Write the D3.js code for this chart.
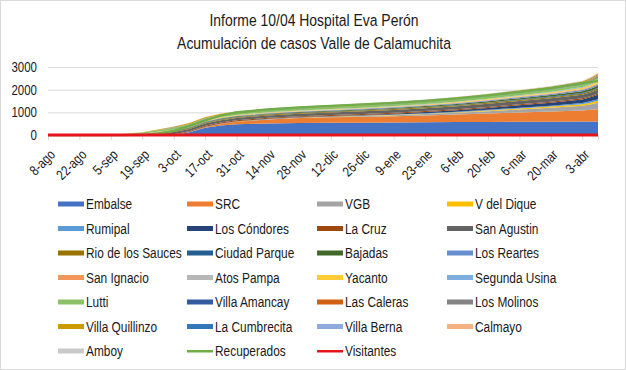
<!DOCTYPE html>
<html>
<head>
<meta charset="utf-8">
<script src="https://cdn.jsdelivr.net/npm/d3@7"></script>
<style>
  body { margin: 0; background: #fff; }
  svg text { font-family: "Liberation Sans", Arial, sans-serif; fill: #1a1a1a; }
</style>
</head>
<body>
<div id="chartWrapper"></div>
<script>
// sample dates (every 2 weeks, a few extra in the steep parts)
const dates = ["2020-08-08","2020-08-22","2020-09-05","2020-09-19","2020-09-26","2020-10-03","2020-10-10",
  "2020-10-17","2020-10-24","2020-10-31","2020-11-14","2020-11-28","2020-12-12","2020-12-26","2021-01-09",
  "2021-01-23","2021-02-06","2021-02-20","2021-03-06","2021-03-20","2021-04-03","2021-04-07","2021-04-10"];

const tickDates = ["2020-08-08","2020-08-22","2020-09-05","2020-09-19","2020-10-03","2020-10-17","2020-10-31",
  "2020-11-14","2020-11-28","2020-12-12","2020-12-26","2021-01-09","2021-01-23","2021-02-06","2021-02-20",
  "2021-03-06","2021-03-20","2021-04-03"];
const tickLabels = ["8-ago","22-ago","5-sep","19-sep","3-oct","17-oct","31-oct","14-nov","28-nov","12-dic",
  "26-dic","9-ene","23-ene","6-feb","20-feb","6-mar","20-mar","3-abr"];

const yTicks = [0, 1000, 2000, 3000];

const areaNames = ["Embalse","SRC","VGB","V del Dique","Rumipal","Los Cóndores","La Cruz","San Agustin",
  "Rio de los Sauces","Ciudad Parque","Bajadas","Los Reartes","San Ignacio","Atos Pampa","Yacanto",
  "Segunda Usina","Lutti","Villa Amancay","Las Caleras","Los Molinos","Villa Quillinzo","La Cumbrecita",
  "Villa Berna","Calmayo","Amboy"];

const embalse        = [0,0,0,0,0,0,120,320,420,470,510,530,540,545,550,560,570,578,584,588,592,596,600];
const src            = [0,0,0,0,0,0,5,30,70,110,170,215,240,258,278,303,333,368,408,448,490,515,540];
const vgb            = [0,0,0,0,0,0,2,5,8,10,14,18,25,35,48,62,80,105,135,165,210,245,280];
const vDelDique      = [0,0,0,0,0,0,0,1,2,3,4,5,7,10,14,18,24,32,42,52,66,78,90];
const rumipal        = [0,0,0,0,0,0,0,1,1,2,3,4,6,8,11,15,20,26,34,42,52,62,70];
const losCondores    = [0,0,0,0,0,2,5,8,11,13,15,17,22,30,40,52,65,85,108,130,160,180,200];
const laCruz         = [0,0,0,12,25,35,38,40,41,42,42,43,43,44,44,45,45,46,46,47,48,49,50];
const sanAgustin     = [0,0,0,30,60,90,96,100,102,104,106,108,110,115,120,125,130,137,144,152,160,165,170];
const rioDeLosSauces = [0,0,0,8,18,30,32,33,34,34,35,35,36,37,38,39,40,42,44,46,47,48,50];
const ciudadParque   = [0,0,0,0,4,8,9,10,10,10,11,11,12,13,14,15,17,19,21,24,26,28,30];
const bajadas        = [0,0,0,0,8,20,24,26,27,28,29,30,32,35,38,42,46,52,60,68,80,88,95];
const losReartes     = [0,0,0,4,10,18,20,21,22,22,23,23,24,26,28,30,33,37,41,45,52,56,60];
const sanIgnacio     = [0,0,0,0,3,6,7,8,8,8,9,9,10,11,12,13,15,18,21,25,31,36,40];
const atosPampa      = [0,0,0,0,0,3,3,4,4,4,4,5,5,6,6,7,8,9,11,13,16,18,20];
const yacanto        = [0,0,0,4,10,15,17,18,19,19,20,20,21,22,23,25,27,30,34,40,52,65,80];
const segundaUsina   = [0,0,0,0,3,6,7,8,8,8,9,9,10,11,12,14,16,19,22,26,31,36,40];
const lutti          = [0,0,3,50,68,80,84,86,87,88,89,90,91,93,95,97,99,102,105,108,112,116,120];
const villaAmancay   = [0,0,0,0,0,3,4,4,5,5,5,6,6,7,8,9,10,12,14,17,21,26,30];
const lasCaleras     = [0,0,0,0,0,2,2,3,3,3,3,4,4,5,5,6,7,8,10,12,15,19,22];
const losMolinos     = [0,0,0,0,4,8,9,10,10,11,11,12,12,13,14,15,17,19,22,25,29,32,35];
const villaQuillinzo = [0,0,0,12,25,40,42,43,44,44,45,45,46,47,48,49,50,51,52,53,57,62,70];
const laCumbrecita   = [0,0,0,0,2,3,3,3,3,4,4,4,4,4,5,5,5,6,6,7,8,9,10];
const villaBerna     = [0,0,0,0,0,2,2,2,3,3,3,3,3,4,4,4,5,5,6,7,8,9,10];
const calmayo        = [0,0,0,0,2,5,5,6,6,6,6,7,7,7,8,8,9,10,11,13,15,18,20];
const amboy          = [0,0,0,0,0,2,2,2,3,3,3,3,3,4,4,4,5,5,6,7,8,10,12];

const recuperados    = [0,0,0,10,60,180,400,640,860,1000,1130,1220,1290,1350,1420,1510,1620,1750,1900,2070,2290,2340,2380];
const visitantes     = [0,0,0,0,0,0,0,0,0,0,0,0,0,0,0,0,0,0,0,0,0,0,0];

const areaSeries = [embalse, src, vgb, vDelDique, rumipal, losCondores, laCruz, sanAgustin, rioDeLosSauces,
  ciudadParque, bajadas, losReartes, sanIgnacio, atosPampa, yacanto, segundaUsina, lutti, villaAmancay,
  lasCaleras, losMolinos, villaQuillinzo, laCumbrecita, villaBerna, calmayo, amboy];

const areaColors = ["#4472C4","#ED7D31","#A5A5A5","#FFC000","#5B9BD5","#264478","#9E480E","#636363",
  "#997300","#255E91","#43682B","#698ED0","#F1975A","#B7B7B7","#FFCD33","#7CAFDD","#8CC168","#335AA1",
  "#D26012","#848484","#CC9A00","#3277B9","#8FAADC","#F4B183","#C9C9C9"];

const lineNames = ["Recuperados","Visitantes"];
const lineColors = ["#70AD47","#E8141C"];

const W = 626, H = 370;
const plot = { left: 48, right: 598, top: 67, bottom: 135 };
const NARROW = 0.82; // no Arial Narrow here, squeeze Liberation Sans instead

const parseDay = d3.timeParse("%Y-%m-%d");

// text squeezed horizontally, placed at (x,y)
function narrowText(p, x, y, str, size, anchor){
	return p.append("text")
		.attr("transform", `translate(${x},${y}) scale(${NARROW},1)`)
		.attr("text-anchor", anchor || "start")
		.attr("dy", "0.35em")
		.style("font-size", size + "px")
		.text(str);
}

const svg = d3.select("#chartWrapper").append("svg")
  .attr("width", W).attr("height", H);

svg.append("rect")
  .attr("x", 0.5).attr("y", 0.5).attr("width", W - 1).attr("height", H - 1)
  .attr("fill", "#fff").attr("stroke", "#d9d9d9");

// titles
narrowText(svg, 314, 20, "Informe 10/04 Hospital Eva Perón", 17, "middle");
narrowText(svg, 314, 43, "Acumulación de casos Valle de Calamuchita", 17, "middle");

const x = d3.scaleTime()
  .domain([parseDay(dates[0]), parseDay(dates[dates.length - 1])])
  .range([plot.left, plot.right]);
const y = d3.scaleLinear().domain([0, 3000]).range([plot.bottom, plot.top]);

// gridlines
const yAxis = d3.axisLeft(y).tickValues(yTicks).tickSize(-(plot.right - plot.left)).tickFormat("");
const yG = svg.append("g").attr("transform", `translate(${plot.left},0)`).call(yAxis);
yG.select(".domain").remove();
yG.selectAll("line").attr("stroke", "#d9d9d9");

const yLabels = svg.append("g");
yTicks.forEach(t => narrowText(yLabels, 37, y(t), String(t), 14, "end"));

// stacked areas
const rows = dates.map((d, i) => {
  const row = { date: parseDay(d) };
  areaNames.forEach((n, k) => { row[n] = areaSeries[k][i]; });
  return row;
});
const stacked = d3.stack().keys(areaNames)(rows);
const area = d3.area()
  .x(d => x(d.data.date))
  .y0(d => y(d[0]))
  .y1(d => y(d[1]));

svg.append("g").selectAll("path")
  .data(stacked)
  .join("path")
  .attr("d", area)
  .attr("fill", (d, i) => areaColors[i]);

// x axis ticks + rotated labels
const xAxis = d3.axisBottom(x)
  .tickValues(tickDates.map(parseDay))
  .tickSize(5)
  .tickFormat((d, i) => tickLabels[i]);
const xG = svg.append("g").attr("transform", `translate(0,${plot.bottom})`).call(xAxis);
xG.select(".domain").attr("stroke", "#d9d9d9");
xG.selectAll("line").attr("stroke", "#d9d9d9");
xG.selectAll("text")
  .style("font-size", "14px")
  .attr("fill", "#1a1a1a")
  .attr("x", 0).attr("y", 0)
  .attr("text-anchor", "end")
  .attr("dy", "0.35em")
  .attr("transform", `translate(4,17) rotate(-45) scale(${NARROW},1)`);

// lines
const lineSeries = [recuperados, visitantes];
const lineFn = d3.line()
  .x((v, i) => x(parseDay(dates[i])))
  .y(v => y(v));
svg.append("g").selectAll("path")
  .data(lineSeries)
  .join("path")
  .attr("d", lineFn)
  .attr("fill", "none")
  .attr("stroke", (d, i) => lineColors[i])
  .attr("stroke-width", (d, i) => i === 1 ? 3 : 2.25);

// legend (4 columns, filled row by row)
const legendCols = [58, 187, 317, 447];
const legendTop = 204, legendStep = 24.5;
const legendItems = areaNames.map((n, i) => ({ name: n, color: areaColors[i], type: "area" }))
  .concat(lineNames.map((n, i) => ({ name: n, color: lineColors[i], type: "line" })));

const lg = svg.append("g").selectAll("g")
  .data(legendItems)
  .join("g")
  .attr("transform", (d, i) => `translate(${legendCols[i % 4]},${legendTop + Math.floor(i / 4) * legendStep})`);

lg.append("rect")
  .attr("x", 0).attr("y", d => d.type === "area" ? -2.5 : -1)
  .attr("width", 26).attr("height", d => d.type === "area" ? 5 : 2.5)
  .attr("fill", d => d.color);
lg.each(function(d){ narrowText(d3.select(this), 28, 0, d.name, 14.5); });
</script>
</body>
</html>
